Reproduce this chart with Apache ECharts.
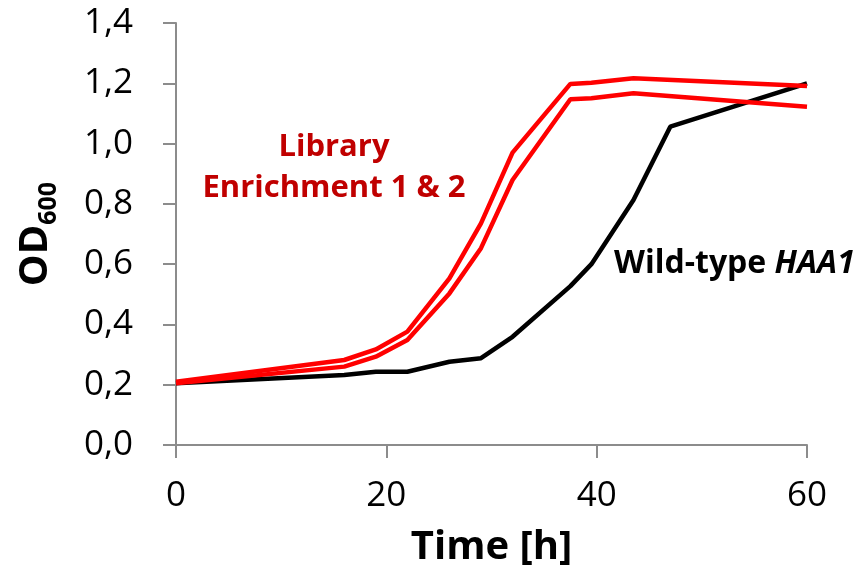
<!DOCTYPE html>
<html>
<head>
<meta charset="utf-8">
<script src="https://cdn.jsdelivr.net/npm/echarts@6/dist/echarts.min.js"></script>
<style>
  html, body { margin: 0; padding: 0; background: #fff; }
  #chart { width: 865px; height: 571px; }
</style>
</head>
<body>
<div id="chart"></div>
<script>
// time points [h] and OD600 readings
const wildTime = [0, 16, 19, 22, 26, 29, 32, 37.5, 39.5, 43.5, 47, 60]
const wildOD = [0.205, 0.232, 0.243, 0.243, 0.276, 0.288, 0.359, 0.527, 0.600, 0.813, 1.056, 1.200]

const libTime = [0, 16, 19, 22, 26, 29, 32, 37.5, 39.5, 43.5, 60]
const lib1OD = [0.21, 0.282, 0.317, 0.376, 0.553, 0.735, 0.970, 1.198, 1.202, 1.217, 1.191]
const lib2OD = [0.205, 0.260, 0.293, 0.348, 0.503, 0.653, 0.879, 1.147, 1.150, 1.167, 1.122]

const xTicks = [0, 20, 40, 60]
const yTicks = [0, 0.2, 0.4, 0.6, 0.8, 1.0, 1.2, 1.4]

const font = '"Open Sans", "Noto Sans", sans-serif'
const axisGray = '#8c8c8c'

const pairs = (xs, ys) => xs.map((x, i) => [x, ys[i]])

const chart = echarts.init(document.getElementById('chart'))

chart.setOption({
  animation: false,
  grid: { left: 176, right: 58, top: 23, bottom: 126, outerBoundsMode: 'none' },
  xAxis: {
    type: 'value',
    min: xTicks[0],
    max: xTicks[xTicks.length - 1],
    interval: 20,
    splitLine: { show: false },
    axisLine: { lineStyle: { color: axisGray, width: 2 } },
    axisTick: { length: 13, lineStyle: { color: axisGray, width: 2 } },
    axisLabel: { color: '#000', fontFamily: font, fontSize: 35, margin: 34 },
    name: 'Time [h]',
    nameLocation: 'middle',
    nameGap: 83,
    nameTextStyle: { color: '#000', fontFamily: font, fontSize: 40, fontWeight: 'bold' },
  },
  yAxis: {
    type: 'value',
    min: yTicks[0],
    max: yTicks[yTicks.length - 1],
    interval: 0.2,
    splitLine: { show: false },
    axisLine: { show: true, lineStyle: { color: axisGray, width: 2 } },
    axisTick: { show: true, length: 13, lineStyle: { color: axisGray, width: 2 } },
    axisLabel: {
      color: '#000',
      fontFamily: font,
      fontSize: 35,
      margin: 43,
      formatter: v => v.toFixed(1).replace('.', ','),
    },
    name: '{a|OD}{b|600}',
    nameLocation: 'middle',
    nameRotate: 90,
    nameGap: 115,
    nameTextStyle: {
      rich: {
        a: { color: '#000', fontFamily: font, fontSize: 40, fontWeight: 'bold', lineHeight: 50 },
        b: { color: '#000', fontFamily: font, fontSize: 25, fontWeight: 'bold', lineHeight: 20, verticalAlign: 'bottom' },
      },
    },
  },
  series: [
    {
      name: 'Wild-type HAA1',
      type: 'line',
      data: pairs(wildTime, wildOD),
      symbol: 'none',
      lineStyle: { color: '#000', width: 4.5 },
      z: 2,
    },
    {
      name: 'Library 1',
      type: 'line',
      data: pairs(libTime, lib1OD),
      symbol: 'none',
      lineStyle: { color: '#ff0000', width: 4.5 },
      z: 3,
    },
    {
      name: 'Library 2',
      type: 'line',
      data: pairs(libTime, lib2OD),
      symbol: 'none',
      lineStyle: { color: '#ff0000', width: 4.5 },
      z: 3,
    },
  ],
  graphic: [
    {
      type: 'text',
      x: 334,
      y: 127,
      style: {
        text: 'Library\nEnrichment 1 & 2',
        textAlign: 'center',
        fill: '#c00000',
        font: 'bold 31px ' + font,
        lineHeight: 41,
      },
    },
    {
      type: 'text',
      x: 614,
      y: 248,
      style: {
        text: '{n|Wild-type }{i|HAA1}',
        rich: {
          n: { fill: '#000', fontFamily: font, fontSize: 32, fontWeight: 'bold' },
          i: { fill: '#000', fontFamily: font, fontSize: 32, fontWeight: 'bold', fontStyle: 'italic' },
        },
      },
    },
  ],
})
</script>
</body>
</html>
